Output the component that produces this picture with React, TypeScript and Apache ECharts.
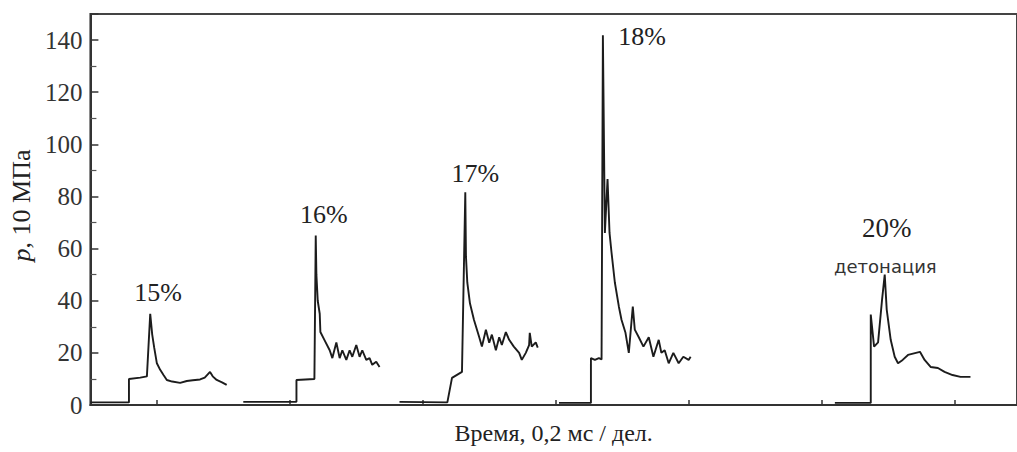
import React, { useEffect, useRef } from 'react';
import * as echarts from 'echarts';

// x: time in µs (0.2 ms per division), y: pressure p, 10 MPa
const trace15: [number, number][] = [
  [0, 1], [58, 1], [58, 10], [75, 10.5], [85, 11], [90, 35], [93, 27], [96, 22],
  [100, 16], [105, 13.5], [110, 11.5], [115, 9.6], [123, 9], [135, 8.5], [145, 9.2],
  [154, 9.5], [165, 9.8], [172, 10.5], [180, 12.7], [184, 11], [190, 9.6], [198, 8.7], [205, 7.7],
];
const trace16: [number, number][] = [
  [230, 1.2], [310, 1.2], [310, 9.6], [337, 10], [339, 65], [340, 50], [342, 40], [345, 35],
  [346, 28], [352, 25], [360, 21], [364, 18], [370, 24], [375, 18], [379, 21], [385, 17.3],
  [390, 21], [394, 18.5], [400, 23], [405, 18.5], [409, 21], [415, 17.3], [420, 18],
  [424, 15.4], [430, 16.6], [435, 14.6],
];
const trace17: [number, number][] = [
  [465, 1.2], [537, 1], [544, 10.4], [559, 12.7], [564, 81.6], [565, 57], [567, 47], [571, 39],
  [577, 32.7], [585, 26], [589, 22.4], [595, 28.9], [600, 23.9], [604, 27], [610, 21], [615, 26],
  [619, 23], [625, 28], [630, 25], [637, 22.4], [645, 20], [649, 17.3], [655, 20], [660, 23],
  [661, 27.7], [664, 22.4], [670, 24], [673, 22],
];
const trace18: [number, number][] = [
  [705, 0.8], [753, 0.8], [753, 18], [759, 17.3], [765, 18], [769, 17.5], [771, 141.8], [774, 66],
  [778, 86.7], [781, 66], [784, 58.5], [789, 47], [795, 37.8], [799, 32.7], [805, 27.7], [810, 20],
  [816, 37.8], [819, 28.9], [825, 26], [832, 22.4], [840, 26], [847, 18.5], [855, 25], [859, 20],
  [864, 21], [870, 16], [877, 20], [885, 16], [892, 18.5], [900, 17.3], [903, 18.5],
];
const trace20: [number, number][] = [
  [1120, 0.8], [1174, 0.8], [1174, 34.7], [1179, 22.4], [1185, 24], [1191, 40.4], [1195, 50],
  [1198, 36.6], [1204, 25], [1210, 18.5], [1215, 16], [1222, 17.3], [1230, 19.2], [1242, 20],
  [1248, 20.4], [1255, 17.3], [1264, 14.6], [1275, 14.2], [1285, 12.7], [1297, 11.5],
  [1309, 10.8], [1324, 10.8],
];
const xTickValues = [100, 300, 500, 700, 900, 1100, 1300];
const seriesNames = ['15%', '16%', '17%', '18%', '20%'];
const noteText = 'детонация';
const yAxisTitle = '{i|p}, 10 МПа';
const xAxisTitle = 'Время, 0,2 мс / дел.';

const SERIF = '"Liberation Serif", "DejaVu Serif", serif';
const INK = '#1c1c1c';

export default function App() {
  const ref = useRef<HTMLDivElement>(null);
  useEffect(() => {
    const chart = echarts.init(ref.current!, null, { renderer: 'svg' });
    const traces = [trace15, trace16, trace17, trace18, trace20];
    const labelCoords: [number, number][] = [[102, 43], [351, 73], [579, 89], [830, 141.5], [1198, 68]];
    const labelSizes = [26, 26, 26, 26, 27];
    const series: any[] = traces.map((d, i) => ({
      type: 'line',
      name: seriesNames[i],
      data: d,
      showSymbol: false,
      symbol: 'none',
      lineStyle: { color: INK, width: 1.9 },
      silent: true,
      markPoint: {
        symbol: 'circle',
        symbolSize: 0,
        silent: true,
        label: {
          show: true, position: 'inside', color: '#222', fontFamily: SERIF, fontSize: labelSizes[i],
          formatter: (p: any) => p.name,
        },
        data: [
          { name: seriesNames[i], coord: labelCoords[i] },
          ...(i === 4
            ? [{
                name: noteText,
                coord: [1196, 53],
                label: { fontFamily: '"DejaVu Sans", sans-serif', fontSize: 18, color: '#333' },
              }]
            : []),
        ],
      },
    }));
    chart.setOption({
      animation: false,
      backgroundColor: '#fff',
      grid: {
        left: 90, right: -2, top: 14, bottom: 47,
        show: true, borderColor: '#444', borderWidth: 2, backgroundColor: 'transparent',
      },
      xAxis: {
        type: 'value',
        min: 0,
        max: 1394,
        name: xAxisTitle,
        nameLocation: 'middle',
        nameGap: 16,
        nameTextStyle: { fontFamily: SERIF, fontSize: 24, color: '#222' },
        axisLine: { show: true, lineStyle: { color: '#333', width: 2 } },
        axisTick: { show: true, inside: true, length: 5, customValues: xTickValues, lineStyle: { color: '#333', width: 1.5 } },
        axisLabel: { show: false },
        splitLine: { show: false },
      },
      yAxis: {
        type: 'value',
        min: 0,
        max: 150,
        interval: 20,
        name: yAxisTitle,
        nameLocation: 'middle',
        nameGap: 50,
        nameRotate: 90,
        nameTextStyle: {
          fontFamily: SERIF, fontSize: 26, color: '#222', padding: [0, 0, 0, 8],
          rich: { i: { fontFamily: SERIF, fontSize: 26, fontStyle: 'italic', color: '#222' } },
        },
        axisLine: { show: true, lineStyle: { color: '#333', width: 2 } },
        axisTick: { show: true, inside: true, length: 8, lineStyle: { color: '#333', width: 1.5 } },
        minorTick: { show: true, splitNumber: 2, length: 6, lineStyle: { color: '#555', width: 1.2 } },
        axisLabel: {
          fontFamily: SERIF, fontSize: 25, color: '#333', margin: 8,
          formatter: (v: number) => (v > 140 ? '' : String(v)),
        },
        splitLine: { show: false },
      },
      series,
    });
    return () => chart.dispose();
  }, []);
  return (
    <div
      ref={ref}
      style={{ position: 'absolute', left: 0, top: 0, width: 1017, height: 452, background: '#fff' }}
    />
  );
}
